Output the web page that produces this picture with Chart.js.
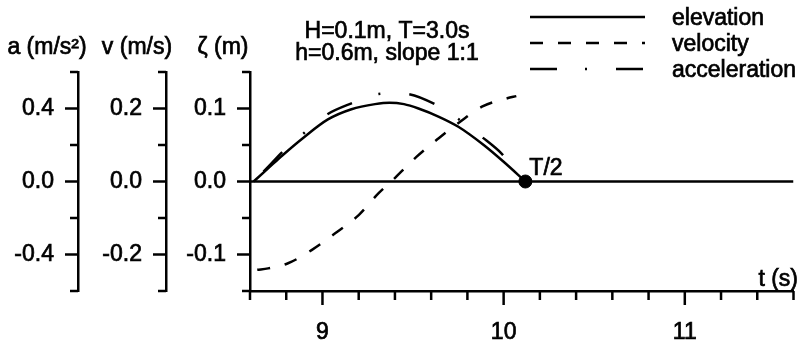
<!DOCTYPE html>
<html>
<head>
<meta charset="utf-8">
<title>Elevation, velocity and acceleration</title>
<script src="https://cdn.jsdelivr.net/npm/chart.js@4.4.1/dist/chart.umd.min.js"></script>
<style>
  html, body { margin: 0; padding: 0; background: #fff; }
  #wrap { position: relative; width: 801px; height: 347px; }
</style>
</head>
<body>
<div id="wrap"><canvas id="myChart"></canvas></div>
<script>
// time axis (s)
const tMin = 8.6;
const tMax = 11.6;
const tHalf = 10.12;

// elevation zeta (m)
const elevTime = [8.62, 8.70, 8.78, 8.90, 9.03, 9.16, 9.29, 9.37, 9.45, 9.53, 9.64, 9.75, 9.89, 10.00, 10.12];
const elevValues = [0, 0.018, 0.036, 0.061, 0.085, 0.099, 0.106, 0.108, 0.106, 0.100, 0.089, 0.075, 0.050, 0.027, 0];

// velocity (m/s)
const velTime = [8.64, 8.70, 8.81, 8.94, 9.07, 9.20, 9.31, 9.38, 9.52, 9.64, 9.76, 9.88, 10.02, 10.07];
const velValues = [-0.242, -0.238, -0.224, -0.188, -0.142, -0.092, -0.032, 0, 0.068, 0.118, 0.164, 0.205, 0.228, 0.234];

// acceleration (m/s2)
const accTime = [8.62, 8.70, 8.78, 8.90, 9.02, 9.16, 9.31, 9.39, 9.47, 9.62, 9.76, 9.88, 9.99, 10.12];
const accValues = [0, 0.08, 0.163, 0.267, 0.364, 0.428, 0.48, 0.484, 0.48, 0.424, 0.336, 0.244, 0.152, 0];

const legendLabels = ['elevation', 'velocity', 'acceleration'];
const axisTitles = { a: 'a (m/s²)', v: 'v (m/s)', z: 'ζ (m)' };
const infoLines = ['H=0.1m, T=3.0s', 'h=0.6m, slope 1:1'];

const FONT = '"Liberation Sans", Arial, sans-serif';
const INK = 0.7; // slight stroke so the text looks as heavy as the scan
Chart.defaults.font.family = FONT;
Chart.defaults.font.size = 23;
Chart.defaults.color = '#000';

function toPoints(xs, ys) {
    return xs.map(function (x, i) { return { x: x, y: ys[i] }; });
}

function line(ctx, x1, y1, x2, y2) {
    ctx.beginPath();
    ctx.moveTo(x1, y1);
    ctx.lineTo(x2, y2);
    ctx.stroke();
}

function text(ctx, str, x, y) {
    ctx.fillText(str, x, y);
    ctx.strokeText(str, x, y);
}

// tick marks: long ones at labelled values, short ones in between
const tickMarks = {
    id: 'tickMarks',
    afterDraw(chart) {
        const ctx = chart.ctx;
        ctx.save();
        ctx.strokeStyle = '#000';
        ctx.lineWidth = 2.5;
        ['a', 'v', 'z'].forEach(function (id) {
            const s = chart.scales[id];
            s.ticks.forEach(function (t, i) {
                const y = s.getPixelForValue(t.value);
                const len = i % 2 === 1 ? 13 : 8;
                line(ctx, s.right - len, y, s.right, y);
            });
        });
        const sx = chart.scales.x;
        sx.ticks.forEach(function (t) {
            const x = sx.getPixelForValue(t.value);
            const major = Math.abs(t.value - Math.round(t.value)) < 1e-6;
            line(ctx, x, sx.top, x, sx.top + (major ? 14 : 9));
        });
        ctx.restore();
    }
};

// axis titles, parameters, legend and labels
const textBits = {
    id: 'textBits',
    afterDraw(chart) {
        const ctx = chart.ctx;
        const area = chart.chartArea;
        ctx.save();
        ctx.fillStyle = '#000';
        ctx.strokeStyle = '#000';
        ctx.font = '23px ' + FONT;
        ctx.textBaseline = 'alphabetic';

        ctx.textAlign = 'center';
        ctx.lineWidth = INK;
        const shift = { a: -31, v: -29, z: -27 };
        Object.keys(axisTitles).forEach(function (id) {
            text(ctx, axisTitles[id], chart.scales[id].right + shift[id], 54);
        });

        text(ctx, infoLines[0], area.left + 137, 38);
        text(ctx, infoLines[1], area.left + 137, 60);

        ctx.textAlign = 'left';
        legendLabels.forEach(function (label, i) {
            const ds = chart.data.datasets[i];
            const y = 17 + i * 26;
            ctx.lineWidth = ds.borderWidth;
            ctx.setLineDash(ds.borderDash || []);
            line(ctx, 530, y, 645, y);
            ctx.setLineDash([]);
            ctx.lineWidth = INK;
            text(ctx, label, 672, y + 8);
        });

        const sx = chart.scales.x;
        const sz = chart.scales.z;
        text(ctx, 'T/2', sx.getPixelForValue(tHalf) + 4, sz.getPixelForValue(0) - 7);

        ctx.textAlign = 'right';
        text(ctx, 't (s)', 798, area.bottom - 5);
        ctx.restore();
    }
};

function yAxis(min, max, step, weight, width) {
    return {
        type: 'linear',
        position: 'left',
        min: min,
        max: max,
        weight: weight,
        afterFit: function (s) {
            s.width = width;
            s.paddingTop = 0;
            s.paddingBottom = 0;
        },
        ticks: {
            stepSize: step,
            autoSkip: false,
            padding: 24,
            textStrokeColor: '#000',
            textStrokeWidth: INK,
            callback: function (v, i) { return i % 2 === 1 ? v.toFixed(1) : ''; }
        },
        grid: { drawOnChartArea: false, drawTicks: false },
        border: { color: '#000', width: 2.5 }
    };
}

const data = {
    datasets: [{
        label: 'elevation',
        data: toPoints(elevTime, elevValues),
        yAxisID: 'z',
        borderColor: '#000',
        borderWidth: 2.5,
        pointRadius: 0,
        cubicInterpolationMode: 'monotone'
    }, {
        label: 'velocity',
        data: toPoints(velTime, velValues),
        yAxisID: 'v',
        borderColor: '#000',
        borderWidth: 2.5,
        borderDash: [13, 15],
        pointRadius: 0,
        cubicInterpolationMode: 'monotone'
    }, {
        label: 'acceleration',
        data: toPoints(accTime, accValues),
        yAxisID: 'a',
        borderColor: '#000',
        borderWidth: 2.5,
        borderDash: [27, 28, 2, 29],
        borderDashOffset: 72,
        pointRadius: 0,
        cubicInterpolationMode: 'monotone'
    }, {
        label: 'zero',
        data: toPoints([tMin, tMax], [0, 0]),
        yAxisID: 'z',
        borderColor: '#000',
        borderWidth: 2.5,
        pointRadius: 0
    }, {
        label: 'T/2',
        data: toPoints([tHalf], [0]),
        yAxisID: 'z',
        showLine: false,
        pointRadius: 6.5,
        pointBackgroundColor: '#000',
        pointBorderColor: '#000'
    }]
};

const config = {
    type: 'line',
    data: data,
    options: {
        responsive: true,
        maintainAspectRatio: false,
        animation: false,
        layout: { padding: { top: 72, right: 5, left: 0, bottom: 0 } },
        plugins: { legend: { display: false }, tooltip: { enabled: false } },
        scales: {
            x: {
                type: 'linear',
                min: tMin,
                max: tMax,
                afterFit: function (s) {
                    s.height = 56;
                    s.paddingLeft = 0;
                    s.paddingRight = 0;
                },
                ticks: {
                    stepSize: 0.2,
                    autoSkip: false,
                    maxRotation: 0,
                    padding: 28,
                    textStrokeColor: '#000',
                    textStrokeWidth: INK,
                    callback: function (v) {
                        return Math.abs(v - Math.round(v)) < 1e-6 ? String(Math.round(v)) : '';
                    }
                },
                grid: { drawOnChartArea: false, drawTicks: false },
                border: { color: '#000', width: 2.5 }
            },
            a: yAxis(-0.6, 0.6, 0.2, 3, 78),
            v: yAxis(-0.3, 0.3, 0.1, 2, 88),
            z: yAxis(-0.15, 0.15, 0.05, 1, 84)
        }
    },
    plugins: [tickMarks, textBits]
};

const myChart = new Chart(document.getElementById('myChart'), config);
</script>
</body>
</html>
